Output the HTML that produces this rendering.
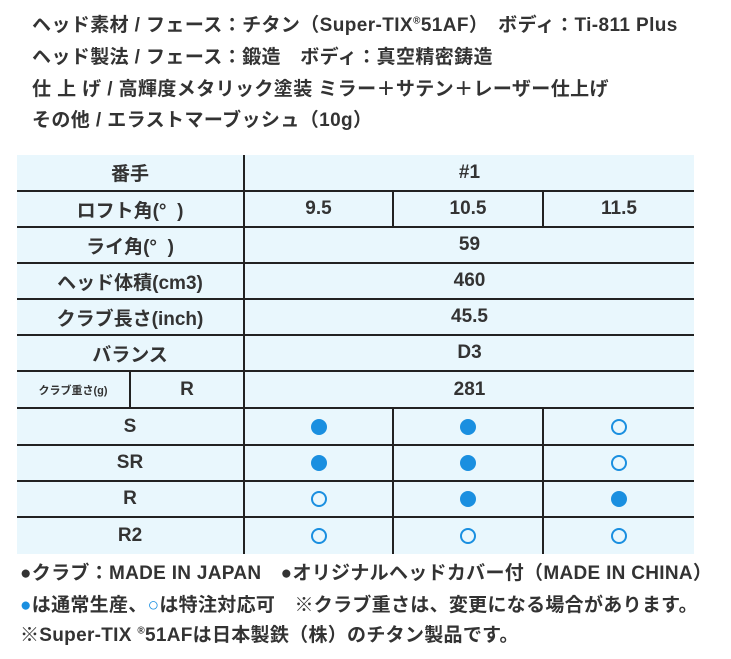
<!DOCTYPE html>
<html><head><meta charset="utf-8"><style>
body{margin:0;width:731px;height:659px;background:#fff;position:relative;overflow:hidden;font-family:"Liberation Sans","Noto Sans CJK JP",sans-serif;color:#333;}
.t{position:absolute;left:32px;font-size:19px;font-weight:bold;white-space:nowrap;letter-spacing:0.4px}
.c{position:absolute;display:flex;align-items:center;justify-content:center;font-size:19px;font-weight:bold;color:#333}
.h{position:absolute;height:2px;background:#222}
.v{position:absolute;width:2px;background:#222}
.f{width:16px;height:16px;border-radius:50%;background:#1a8fe0}
.o{width:12px;height:12px;border-radius:50%;border:2px solid #1a8fe0}
</style></head><body>
<div class="t" style="top:10px">ヘッド素材 / フェース：チタン（Super-TIX<sup style="font-size:10px">®</sup>51AF）　ボディ：Ti-811 Plus</div>
<div class="t" style="top:42px">ヘッド製法 / フェース：鍛造　ボディ：真空精密鋳造</div>
<div class="t" style="top:74px">仕 上 げ / 高輝度メタリック塗装 ミラー＋サテン＋レーザー仕上げ</div>
<div class="t" style="top:105px">その他 / エラストマーブッシュ（10g）</div>

<div style="position:absolute;left:17px;top:155px;width:677px;height:399px;background:#e9f7fd"></div>
<div class="h" style="left:17px;width:677px;top:190px"></div>
<div class="h" style="left:17px;width:677px;top:226px"></div>
<div class="h" style="left:17px;width:677px;top:262px"></div>
<div class="h" style="left:17px;width:677px;top:298px"></div>
<div class="h" style="left:17px;width:677px;top:334px"></div>
<div class="h" style="left:17px;width:677px;top:370px"></div>
<div class="h" style="left:17px;width:677px;top:407px"></div>
<div class="h" style="left:17px;width:677px;top:444px"></div>
<div class="h" style="left:17px;width:677px;top:480px"></div>
<div class="h" style="left:17px;width:677px;top:516px"></div>
<div class="v" style="left:243px;top:155px;height:399px"></div>
<div class="v" style="left:392px;top:190px;height:36px"></div>
<div class="v" style="left:542px;top:190px;height:36px"></div>
<div class="v" style="left:392px;top:407px;height:147px"></div>
<div class="v" style="left:542px;top:407px;height:147px"></div>
<div class="v" style="left:129px;top:370px;height:37px"></div>

<div class="c" style="left:17px;width:226px;top:155px;height:35px">番手</div>
<div class="c" style="left:245px;width:449px;top:155px;height:35px">#1</div>
<div class="c" style="left:17px;width:226px;top:192px;height:34px">ロフト角(°&nbsp;&nbsp;)</div>
<div class="c" style="left:245px;width:147px;top:192px;height:34px">9.5</div>
<div class="c" style="left:394px;width:148px;top:192px;height:34px">10.5</div>
<div class="c" style="left:544px;width:150px;top:192px;height:34px">11.5</div>
<div class="c" style="left:17px;width:226px;top:228px;height:34px">ライ角(°&nbsp;&nbsp;)</div>
<div class="c" style="left:245px;width:449px;top:228px;height:34px">59</div>
<div class="c" style="left:17px;width:226px;top:264px;height:34px">ヘッド体積(cm3)</div>
<div class="c" style="left:245px;width:449px;top:264px;height:34px">460</div>
<div class="c" style="left:17px;width:226px;top:300px;height:34px">クラブ長さ(inch)</div>
<div class="c" style="left:245px;width:449px;top:300px;height:34px">45.5</div>
<div class="c" style="left:17px;width:226px;top:336px;height:34px">バランス</div>
<div class="c" style="left:245px;width:449px;top:336px;height:34px">D3</div>
<div class="c" style="left:17px;width:112px;top:372px;height:35px;font-size:11px">クラブ重さ(g)</div>
<div class="c" style="left:131px;width:112px;top:372px;height:35px">R</div>
<div class="c" style="left:245px;width:449px;top:372px;height:35px">281</div>

<div class="c" style="left:17px;width:226px;top:409px;height:35px">S</div>
<div class="c" style="left:245px;width:147px;top:409px;height:35px"><div class="f"></div></div>
<div class="c" style="left:394px;width:148px;top:409px;height:35px"><div class="f"></div></div>
<div class="c" style="left:544px;width:150px;top:409px;height:35px"><div class="o"></div></div>
<div class="c" style="left:17px;width:226px;top:446px;height:34px">SR</div>
<div class="c" style="left:245px;width:147px;top:446px;height:34px"><div class="f"></div></div>
<div class="c" style="left:394px;width:148px;top:446px;height:34px"><div class="f"></div></div>
<div class="c" style="left:544px;width:150px;top:446px;height:34px"><div class="o"></div></div>
<div class="c" style="left:17px;width:226px;top:482px;height:34px">R</div>
<div class="c" style="left:245px;width:147px;top:482px;height:34px"><div class="o"></div></div>
<div class="c" style="left:394px;width:148px;top:482px;height:34px"><div class="f"></div></div>
<div class="c" style="left:544px;width:150px;top:482px;height:34px"><div class="f"></div></div>
<div class="c" style="left:17px;width:226px;top:518px;height:36px">R2</div>
<div class="c" style="left:245px;width:147px;top:518px;height:36px"><div class="o"></div></div>
<div class="c" style="left:394px;width:148px;top:518px;height:36px"><div class="o"></div></div>
<div class="c" style="left:544px;width:150px;top:518px;height:36px"><div class="o"></div></div>

<div class="t" style="left:20px;top:558px;letter-spacing:0.3px">●クラブ：MADE IN JAPAN　●オリジナルヘッドカバー付（MADE IN CHINA）</div>
<div class="t" style="left:20px;top:590px;letter-spacing:0.3px"><span style="color:#1a8fe0">●</span>は通常生産、<span style="color:#1a8fe0">○</span>は特注対応可　※クラブ重さは、変更になる場合があります。</div>
<div class="t" style="left:20px;top:620px;letter-spacing:0.3px">※Super-TIX <sup style="font-size:10px">®</sup>51AFは日本製鉄（株）のチタン製品です。</div>
</body></html>
